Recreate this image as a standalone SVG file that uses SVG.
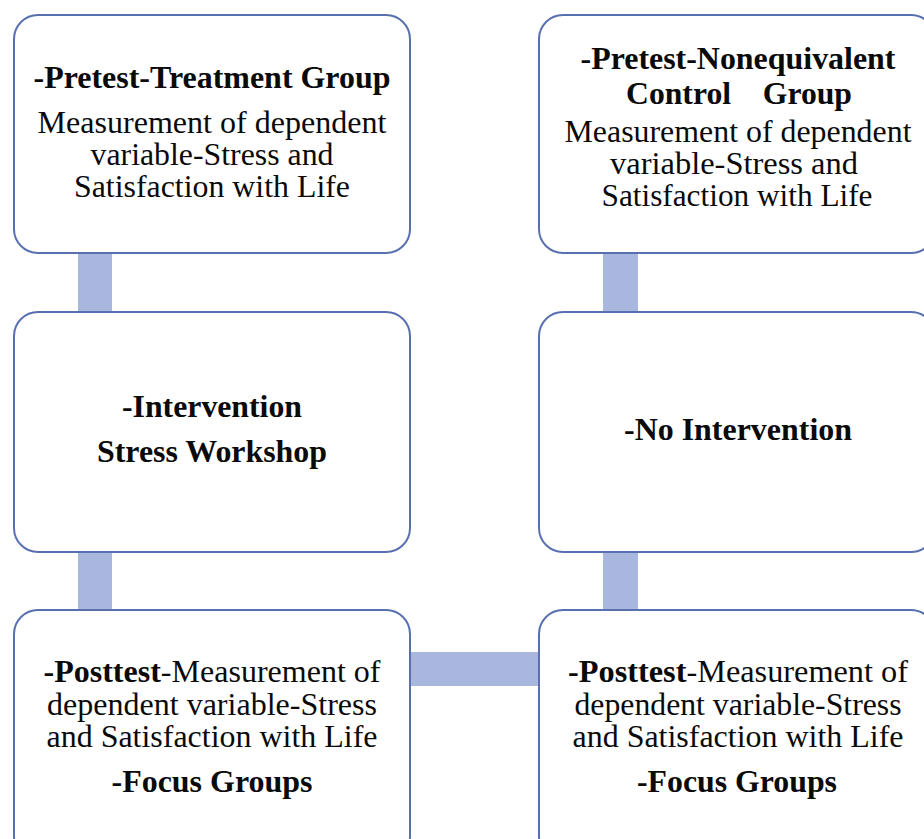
<svg xmlns="http://www.w3.org/2000/svg" width="924" height="839" viewBox="0 0 924 839">
<style>
.box{fill:#ffffff;stroke:#5870b0;stroke-width:2}
.bar{fill:#a9b6dd}
.t{font-family:"Liberation Serif","Times New Roman",serif;font-size:31.5px;fill:#0a0a0a;text-anchor:middle}
.b{font-weight:bold}
</style>
<rect width="924" height="839" fill="#ffffff"/>
<g id="connectors">
<rect class="bar" x="78" y="250" width="34" height="66"/>
<rect class="bar" x="78" y="548" width="34" height="66"/>
<rect class="bar" x="603" y="250" width="35" height="66"/>
<rect class="bar" x="603" y="548" width="35" height="66"/>
<rect class="bar" x="406" y="652" width="137" height="34"/>
</g>
<g id="pretest-treatment">
<rect class="box" x="14" y="15" width="396" height="238" rx="24"/>
<text class="t b" x="212" y="88" textLength="357" lengthAdjust="spacingAndGlyphs">-Pretest-Treatment Group</text>
<text class="t" x="212" y="133" textLength="349" lengthAdjust="spacingAndGlyphs">Measurement of dependent</text>
<text class="t" x="212" y="165" textLength="243" lengthAdjust="spacingAndGlyphs">variable-Stress and</text>
<text class="t" x="212" y="197" textLength="276" lengthAdjust="spacingAndGlyphs">Satisfaction with Life</text>
</g>
<g id="pretest-control">
<rect class="box" x="539" y="15" width="396" height="238" rx="24"/>
<text class="t b" x="738" y="69" textLength="315" lengthAdjust="spacingAndGlyphs">-Pretest-Nonequivalent</text>
<text class="t b" x="739" y="104" textLength="226" lengthAdjust="spacingAndGlyphs" xml:space="preserve">Control    Group</text>
<text class="t" x="738" y="142" textLength="347" lengthAdjust="spacingAndGlyphs">Measurement of dependent</text>
<text class="t" x="734" y="174" textLength="248" lengthAdjust="spacingAndGlyphs">variable-Stress and</text>
<text class="t" x="737" y="206" textLength="271" lengthAdjust="spacingAndGlyphs">Satisfaction with Life</text>
</g>
<g id="intervention">
<rect class="box" x="14" y="312" width="396" height="240" rx="24"/>
<text class="t b" x="212" y="417" textLength="180" lengthAdjust="spacingAndGlyphs">-Intervention</text>
<text class="t b" x="212" y="462" textLength="230" lengthAdjust="spacingAndGlyphs">Stress Workshop</text>
</g>
<g id="no-intervention">
<rect class="box" x="539" y="312" width="396" height="240" rx="24"/>
<text class="t b" x="738" y="440" textLength="228" lengthAdjust="spacingAndGlyphs">-No Intervention</text>
</g>
<g id="posttest-treatment">
<rect class="box" x="14" y="610" width="396" height="250" rx="24"/>
<text class="t" x="212" y="682" textLength="337" lengthAdjust="spacingAndGlyphs"><tspan class="b">-Posttest</tspan>-Measurement of</text>
<text class="t" x="212" y="715" textLength="330" lengthAdjust="spacingAndGlyphs">dependent variable-Stress</text>
<text class="t" x="212" y="747" textLength="331" lengthAdjust="spacingAndGlyphs">and Satisfaction with Life</text>
<text class="t b" x="212" y="792" textLength="201" lengthAdjust="spacingAndGlyphs">-Focus Groups</text>
</g>
<g id="posttest-control">
<rect class="box" x="539" y="610" width="396" height="250" rx="24"/>
<text class="t" x="738" y="682" textLength="340" lengthAdjust="spacingAndGlyphs"><tspan class="b">-Posttest</tspan>-Measurement of</text>
<text class="t" x="738" y="715" textLength="327" lengthAdjust="spacingAndGlyphs">dependent variable-Stress</text>
<text class="t" x="738" y="747" textLength="331" lengthAdjust="spacingAndGlyphs">and Satisfaction with Life</text>
<text class="t b" x="737" y="792" textLength="200" lengthAdjust="spacingAndGlyphs">-Focus Groups</text>
</g>
</svg>
